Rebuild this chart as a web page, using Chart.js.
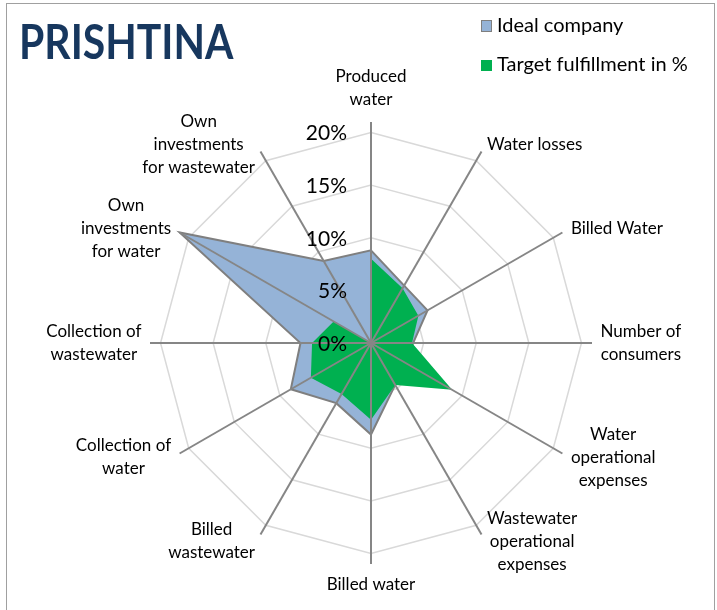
<!DOCTYPE html>
<html>
<head>
<meta charset="utf-8">
<script src="https://cdn.jsdelivr.net/npm/chart.js@4.4.1/dist/chart.umd.min.js"></script>
<style>
  body { margin: 0; background: #fff; }
  .wrap { position: relative; width: 717px; height: 610px; overflow: hidden; }
  .frame { position: absolute; left: 6px; top: 3px; width: 707px; height: 640px; border: 1px solid #a0a0a0; }
  #radar { position: absolute; left: 0; top: 0; }
  .title { position: absolute; left: 19px; top: 17px; font: bold 48px Lato, sans-serif; line-height: 48px; color: #17375e; transform-origin: 0 0; white-space: nowrap; }
  .legend { position: absolute; left: 481px; top: 11px; font: 20px Lato, sans-serif; color: #000; }
  .legend div { height: 39px; line-height: 26px; white-space: nowrap; }
  .legend span { display: inline-block; width: 11px; height: 11px; margin-right: 5px; vertical-align: 0px; }
</style>
</head>
<body>
<div class="wrap">
  <div class="frame"></div>
  <canvas id="radar" width="717" height="610"></canvas>
  <div class="title" id="title">PRISHTINA</div>
  <div class="legend">
    <div><span style="background:#95b3d7;border:1px solid #7f7f7f;width:9px;height:10px"></span>Ideal company</div>
    <div><span style="background:#00b050"></span>Target fulfillment in %</div>
  </div>
</div>
<script>
// categories, clockwise from the top
const categories = [
  ['Produced', 'water'],
  ['Water losses'],
  ['Billed Water'],
  ['Number of', 'consumers'],
  ['Water', 'operational', 'expenses'],
  ['Wastewater', 'operational', 'expenses'],
  ['Billed water'],
  ['Billed', 'wastewater'],
  ['Collection of', 'water'],
  ['Collection of', 'wastewater'],
  ['Own', 'investments', 'for water'],
  ['Own', 'investments', 'for wastewater']
];

// values in %
const idealCompany = [8.8, 6.3, 6.2, 4.0, 4.0, 4.6, 8.7, 6.6, 8.8, 6.7, 21, 9.0];
const targetFulfillment = [8.0, 6.0, 5.2, 3.9, 8.9, 4.6, 7.3, 5.6, 6.6, 5.6, 4.1, 0];

const tickValues = [0, 5, 10, 15, 20];
const tickLabels = ['0%', '5%', '10%', '15%', '20%'];

// narrow the title like the calibri original
const titleEl = document.getElementById('title');
titleEl.style.transform = 'scaleX(' + (214 / titleEl.offsetWidth) + ')';

// axis lines on top of the areas + excel style labels
const excelRadar = {
  id: 'excelRadar',
  afterDatasetsDraw(chart) {
    const s = chart.scales.r;
    const ctx = chart.ctx;
    ctx.save();

    ctx.strokeStyle = '#868686';
    ctx.lineWidth = 2;
    for (let i = 0; i < categories.length; i++) {
      const p = s.getPointPosition(i, s.drawingArea);
      ctx.beginPath();
      ctx.moveTo(s.xCenter, s.yCenter);
      ctx.lineTo(p.x, p.y);
      ctx.stroke();
    }

    ctx.fillStyle = '#000';
    ctx.textBaseline = 'middle';
    ctx.font = '21px Lato';
    ctx.textAlign = 'right';
    tickValues.forEach((v, i) => {
      const r = s.getDistanceFromCenterForValue(v);
      ctx.fillText(tickLabels[i], s.xCenter - 24, s.yCenter - r + 1);
    });

    ctx.font = '17px Lato';
    ctx.textAlign = 'center';
    const lh = 23;
    categories.forEach((lines, i) => {
      const a = s.getIndexAngle(i);
      const sin = Math.sin(a), cos = Math.cos(a);
      const end = s.getPointPosition(i, s.drawingArea);
      const n = lines.length;
      const w = Math.max(...lines.map(t => ctx.measureText(t).width));
      let cx, top;
      if (Math.abs(sin) < 0.01) {
        cx = end.x;
        top = cos > 0 ? end.y - 11 - n * lh : end.y + 9;
      } else {
        const gap = Math.abs(sin) > 0.6 ? 8.5 : 5.5;
        cx = end.x + Math.sign(sin) * (gap + w / 2);
        top = end.y - cos * 8 - n * lh / 2;
      }
      lines.forEach((t, k) => ctx.fillText(t, cx, top + lh / 2 + k * lh));
    });
    ctx.restore();
  }
};

new Chart(document.getElementById('radar'), {
  type: 'radar',
  data: {
    labels: categories,
    datasets: [
      {
        label: 'Target fulfillment in %',
        data: targetFulfillment,
        backgroundColor: '#00b050',
        borderWidth: 0,
        fill: true,
        pointRadius: 0,
        order: 0
      },
      {
        label: 'Ideal company',
        data: idealCompany,
        backgroundColor: '#95b3d7',
        borderColor: '#7f7f7f',
        borderWidth: 2,
        fill: true,
        pointRadius: 0,
        order: 1
      }
    ]
  },
  options: {
    responsive: false,
    animation: false,
    layout: { padding: { left: 150, top: 122, right: 125, bottom: 46 } },
    plugins: { legend: { display: false }, tooltip: { enabled: false } },
    scales: {
      r: {
        min: 0,
        max: 21,
        ticks: { display: false, stepSize: 5 },
        afterBuildTicks: (scale) => { scale.ticks = scale.ticks.filter(t => t.value <= 20); },
        grid: { color: '#d9d9d9', lineWidth: 1.5 },
        angleLines: { display: false },
        pointLabels: { display: false }
      }
    }
  },
  plugins: [excelRadar]
});
</script>
</body>
</html>
